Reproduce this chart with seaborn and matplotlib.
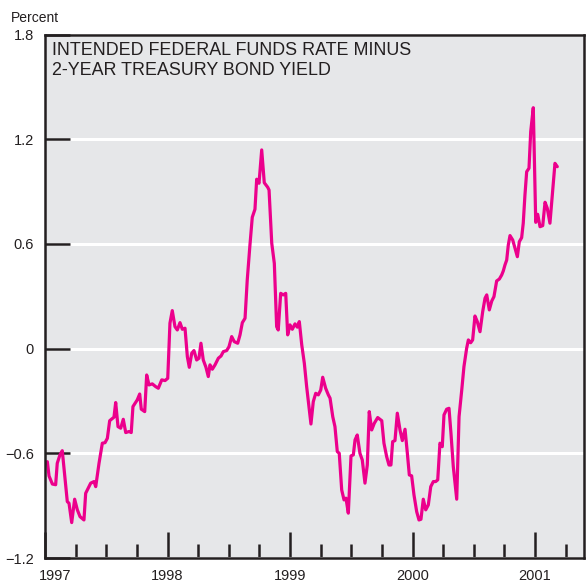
import numpy as np
import pandas as pd
import seaborn as sns
import matplotlib
matplotlib.use('Agg')
from matplotlib import pyplot as plt
from matplotlib.ticker import MultipleLocator, FixedLocator
from matplotlib.transforms import ScaledTranslation

# intended fed funds rate minus 2-year treasury yield (percent)
years = [
    1997.019, 1997.033, 1997.060, 1997.087, 1997.100, 1997.122, 1997.141, 1997.161,
    1997.182, 1997.196, 1997.218, 1997.242, 1997.264, 1997.286, 1997.318, 1997.332,
    1997.373, 1997.400, 1997.414, 1997.441, 1997.468, 1997.490, 1997.509, 1997.528,
    1997.563, 1997.577, 1997.596, 1997.618, 1997.639, 1997.659, 1997.686, 1997.704,
    1997.718, 1997.753, 1997.773, 1997.786, 1997.814, 1997.830, 1997.849, 1997.876,
    1997.904, 1997.925, 1997.953, 1997.980,
    1998.002, 1998.020, 1998.039, 1998.061, 1998.080, 1998.102, 1998.121, 1998.143,
    1998.162, 1998.178, 1998.198, 1998.216, 1998.238, 1998.257, 1998.273, 1998.292,
    1998.314, 1998.333, 1998.347, 1998.366, 1998.388, 1998.415, 1998.437, 1998.456,
    1998.483, 1998.502, 1998.524, 1998.545, 1998.573, 1998.592, 1998.611, 1998.633,
    1998.651, 1998.673, 1998.692, 1998.714, 1998.728, 1998.747, 1998.769, 1998.790,
    1998.818, 1998.829, 1998.851, 1998.872, 1998.891, 1998.904, 1998.924, 1998.945,
    1998.965, 1998.981,
    1999.000, 1999.019, 1999.041, 1999.060, 1999.076, 1999.096, 1999.117, 1999.136,
    1999.155, 1999.171, 1999.190, 1999.210, 1999.231, 1999.251, 1999.267, 1999.291,
    1999.313, 1999.327, 1999.349, 1999.367, 1999.386, 1999.402, 1999.422, 1999.441,
    1999.457, 1999.476, 1999.498, 1999.517, 1999.531, 1999.549, 1999.571, 1999.590,
    1999.612, 1999.631, 1999.647, 1999.667, 1999.688, 1999.716, 1999.749, 1999.767,
    1999.789, 1999.808, 1999.824, 1999.838, 1999.857, 1999.876, 1999.898, 1999.917,
    1999.939, 1999.958, 1999.974, 1999.993,
    2000.012, 2000.034, 2000.053, 2000.069, 2000.088, 2000.108, 2000.129, 2000.149,
    2000.170, 2000.189, 2000.206, 2000.224, 2000.243, 2000.257, 2000.279, 2000.298,
    2000.314, 2000.333, 2000.347, 2000.361, 2000.380, 2000.402, 2000.420, 2000.442,
    2000.456, 2000.475, 2000.491, 2000.510, 2000.529, 2000.551, 2000.573, 2000.592,
    2000.606, 2000.627, 2000.647, 2000.665, 2000.687, 2000.709, 2000.728, 2000.741,
    2000.755, 2000.769, 2000.782, 2000.796, 2000.818, 2000.837, 2000.856, 2000.872,
    2000.891, 2000.904, 2000.918, 2000.932, 2000.951, 2000.965, 2000.986,
    2001.006, 2001.022, 2001.041, 2001.063, 2001.082, 2001.100, 2001.122, 2001.144,
    2001.163, 2001.182,
]
spread = [
    -0.648, -0.730, -0.776, -0.780, -0.657, -0.609, -0.585, -0.730,
    -0.877, -0.886, -0.997, -0.863, -0.924, -0.963, -0.982, -0.829,
    -0.771, -0.762, -0.791, -0.657, -0.542, -0.539, -0.514, -0.413,
    -0.393, -0.309, -0.447, -0.456, -0.405, -0.481, -0.475, -0.481,
    -0.332, -0.294, -0.260, -0.347, -0.361, -0.151, -0.208, -0.202,
    -0.218, -0.227, -0.179, -0.183,
    -0.170, 0.146, 0.218, 0.126, 0.107, 0.149, 0.111, 0.117,
    -0.046, -0.107, -0.026, -0.011, -0.065, -0.055, 0.031, -0.065,
    -0.107, -0.160, -0.093, -0.118, -0.093, -0.055, -0.042, -0.017,
    -0.011, 0.011, 0.069, 0.040, 0.031, 0.079, 0.149, 0.174,
    0.394, 0.594, 0.753, 0.799, 0.971, 0.948, 1.139, 0.951,
    0.925, 0.909, 0.604, 0.489, 0.126, 0.107, 0.317, 0.308,
    0.317, 0.079,
    0.136, 0.111, 0.142, 0.123, 0.155, 0.021, -0.084, -0.218,
    -0.332, -0.432, -0.304, -0.256, -0.265, -0.237, -0.164, -0.227,
    -0.265, -0.284, -0.390, -0.447, -0.590, -0.600, -0.810, -0.867,
    -0.857, -0.943, -0.615, -0.609, -0.523, -0.495, -0.600, -0.638,
    -0.771, -0.667, -0.361, -0.466, -0.428, -0.395, -0.413, -0.542,
    -0.619, -0.667, -0.667, -0.533, -0.527, -0.370, -0.466, -0.527,
    -0.462, -0.600, -0.724, -0.729,
    -0.838, -0.934, -0.982, -0.978, -0.863, -0.924, -0.896, -0.791,
    -0.762, -0.762, -0.752, -0.542, -0.562, -0.380, -0.347, -0.342,
    -0.485, -0.676, -0.771, -0.863, -0.390, -0.237, -0.103, 0.002,
    0.050, 0.034, 0.050, 0.187, 0.155, 0.097, 0.212, 0.289,
    0.308, 0.222, 0.273, 0.298, 0.388, 0.399, 0.422, 0.445,
    0.480, 0.508, 0.594, 0.648, 0.623, 0.575, 0.527, 0.613,
    0.636, 0.719, 0.881, 1.014, 1.034, 1.244, 1.381,
    0.724, 0.770, 0.699, 0.705, 0.839, 0.805, 0.719, 0.900,
    1.062, 1.043,
]
year_ticks = [1997, 1998, 1999, 2000, 2001]
year_labels = ['1997', '1998', '1999', '2000', '2001']
y_ticks = [-1.2, -0.6, 0, 0.6, 1.2, 1.8]

df = pd.DataFrame({'year': years, 'spread': spread})

sns.set_style('white')
plt.rcParams['font.family'] = ['Liberation Sans', 'DejaVu Sans']

ink = '#231f20'
fig = plt.figure(figsize=(5.87, 5.83), dpi=100)
ax = fig.add_axes([45/587, 1-558/583, 539/587, 523.4/583])
ax.set_facecolor('#e6e7e9')
ax.set_axisbelow(True)

sns.lineplot(data=df, x='year', y='spread', ax=ax, color='#ec008c',
             linewidth=2.3, sort=False, estimator=None)

ax.set_xlim(1997, 2001.40)
ax.set_ylim(-1.2, 1.8)
ax.set_xlabel('')
ax.set_ylabel('')

ax.yaxis.set_major_locator(FixedLocator(y_ticks))
ax.set_yticklabels(['\u22121.2', '\u22120.6', '0', '0.6', '1.2', '1.8'])
ax.set_xticks(year_ticks)
ax.set_xticklabels(year_labels)
ax.xaxis.set_minor_locator(MultipleLocator(0.25))

ax.grid(axis='y', color='white', linewidth=2.2)
ax.grid(axis='x', visible=False)
ax.tick_params(axis='both', which='major', direction='in', color=ink,
               width=1.8, labelsize=10.5, labelcolor=ink)
ax.tick_params(axis='x', which='major', length=19, pad=8,
               bottom=True, top=False)
ax.tick_params(axis='x', which='minor', direction='in', length=10,
               width=1.8, color=ink, bottom=True, top=False)
ax.tick_params(axis='y', which='major', length=18, pad=8,
               left=True, right=False)

for s in ax.spines.values():
    s.set_color(ink)
    s.set_linewidth(1.8)
    s.set_visible(True)

# nudge the first year label in from the corner
lab0 = ax.get_xticklabels()[0]
lab0.set_transform(lab0.get_transform() + ScaledTranslation(7/72, 0, fig.dpi_scale_trans))

ax.text(0.013, 0.985, 'INTENDED FEDERAL FUNDS RATE MINUS\n2-YEAR TREASURY BOND YIELD',
        transform=ax.transAxes, ha='left', va='top', fontsize=12.9,
        color=ink, linespacing=1.2)
fig.text(11/587, 1-18/583, 'Percent', ha='left', va='center', fontsize=10, color=ink)

plt.savefig('out.png', dpi=100)
